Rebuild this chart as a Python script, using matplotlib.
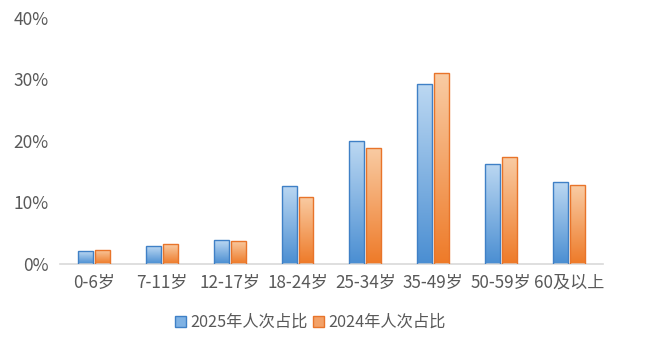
import numpy as np
import matplotlib
matplotlib.use("Agg")
import matplotlib.pyplot as plt
from matplotlib.colors import LinearSegmentedColormap
from matplotlib.patches import Patch

plt.rcParams['font.family'] = ['Noto Sans CJK SC', 'DejaVu Sans']

# Data
categories = ["0-6岁", "7-11岁", "12-17岁", "18-24岁", "25-34岁", "35-49岁", "50-59岁", "60及以上"]
share_2025 = [2.1, 2.9, 3.9, 12.7, 20.0, 29.2, 16.3, 13.3]
share_2024 = [2.3, 3.2, 3.8, 10.9, 18.9, 31.0, 17.4, 12.8]
series_names = ["2025年人次占比", "2024年人次占比"]

fig = plt.figure(figsize=(6.6, 3.44), dpi=100)
ax = fig.add_axes([0.0909, 0.2326, 0.8227, 0.7151])

x = np.arange(len(categories))
w = 0.22
gap = 0.015

blue_cmap = LinearSegmentedColormap.from_list("b", ["#4a8ed2", "#bcd8f2"])
orange_cmap = LinearSegmentedColormap.from_list("o", ["#ee7a28", "#f9cca4"])
grad = np.linspace(0, 1, 256).reshape(-1, 1)


def gradient_bars(xs, vals, cmap, edge):
    bars = ax.bar(xs, vals, width=w, facecolor="none", edgecolor=edge,
                  linewidth=1.0, zorder=3)
    for b in bars:
        x0, y0 = b.get_x(), b.get_y()
        im = ax.imshow(grad, extent=[x0, x0 + b.get_width(), y0, y0 + b.get_height()],
                       origin="lower", cmap=cmap, aspect="auto", zorder=2)
        im.set_clip_path(b)
    return bars


gradient_bars(x - w / 2 - gap, share_2025, blue_cmap, "#3f80c6")
gradient_bars(x + w / 2 + gap, share_2024, orange_cmap, "#e8742a")

ax.set_xlim(-0.5, len(categories) - 0.5)
ax.set_ylim(0, 40)
ax.set_yticks([0, 10, 20, 30, 40])
ax.set_yticklabels([f"{v}%" for v in [0, 10, 20, 30, 40]])
ax.set_xticks(x)
ax.set_xticklabels(categories)

for s in ["top", "right", "left"]:
    ax.spines[s].set_visible(False)
ax.spines["bottom"].set_color("#d9d9d9")
ax.spines["bottom"].set_linewidth(1.2)
ax.tick_params(axis="both", length=0, colors="#595959")
ax.tick_params(axis="y", labelsize=12.5, pad=8)
ax.tick_params(axis="x", labelsize=12.3, pad=7)

handles = [Patch(facecolor="#7fb2e4", edgecolor="#3f80c6"),
           Patch(facecolor="#f3a167", edgecolor="#e8742a")]
fig.legend(handles, series_names, loc="center", bbox_to_anchor=(0.47, 0.062),
           ncol=2, frameon=False, fontsize=11.7, handlelength=0.7, handleheight=0.7,
           handletextpad=0.25, columnspacing=0.3, labelcolor="#595959")

fig.savefig("out.png", dpi=100)
